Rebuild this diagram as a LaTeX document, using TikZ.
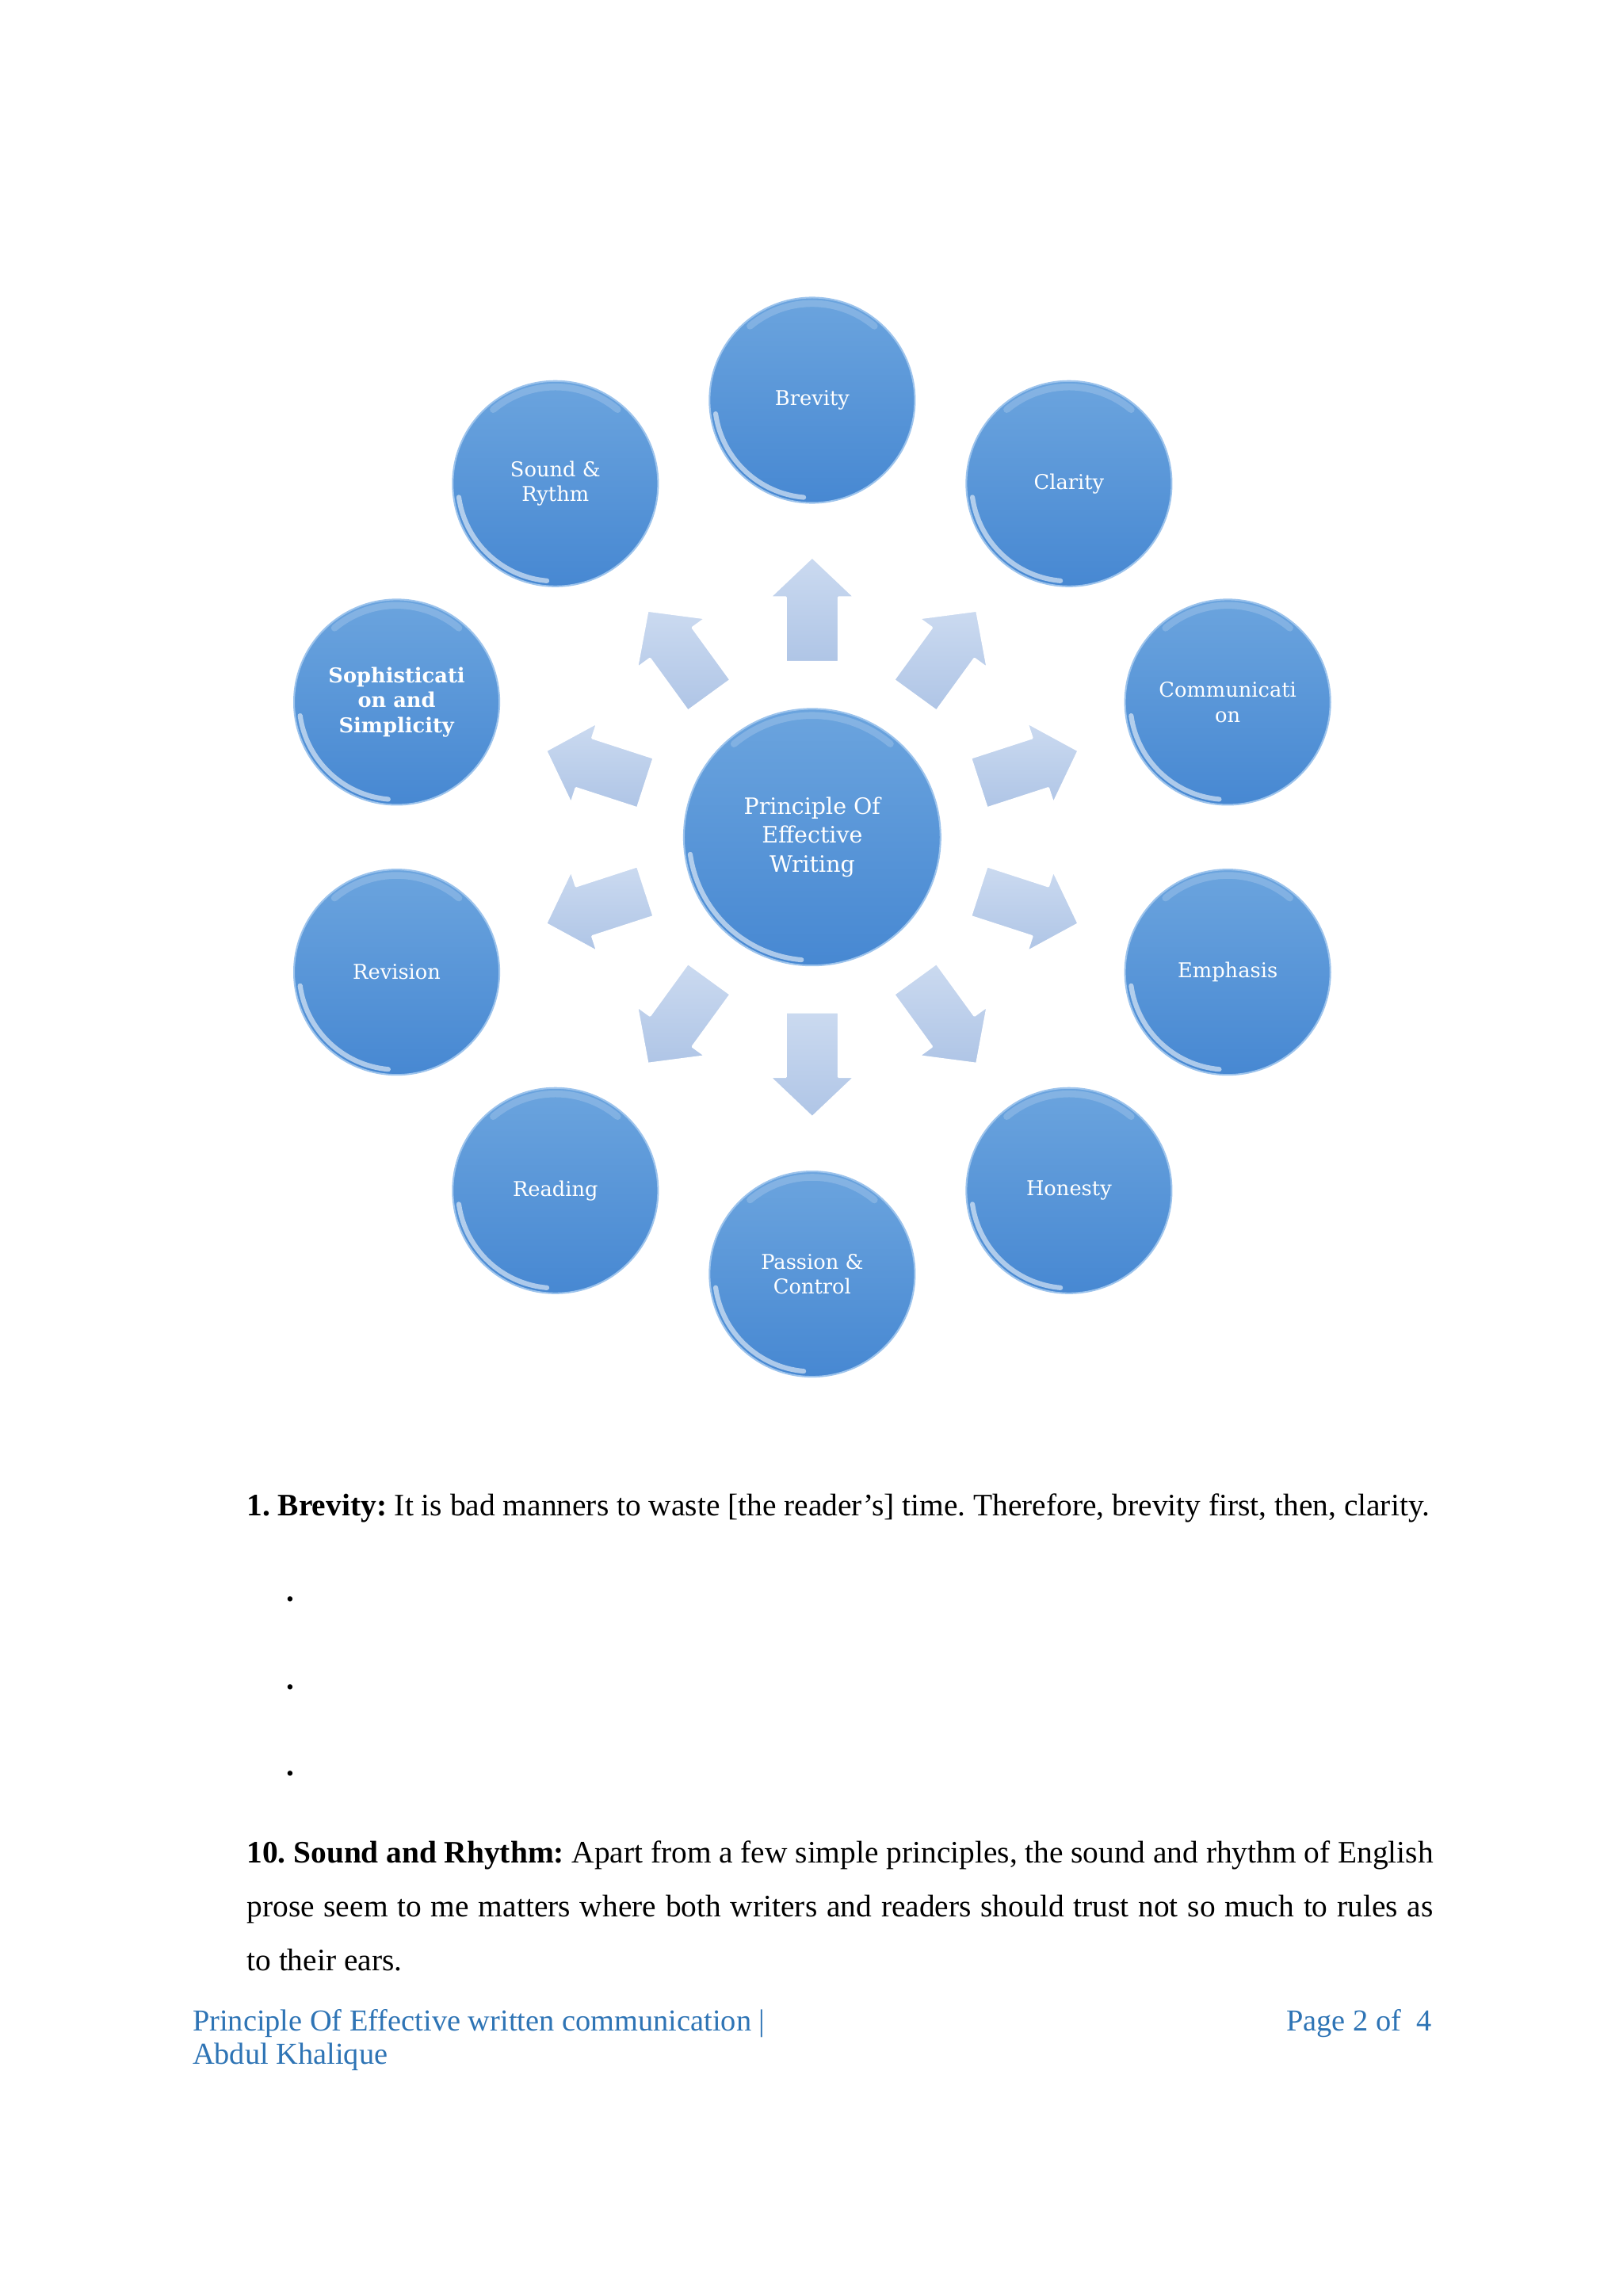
\documentclass[tikz,border=0pt]{standalone}
\usepackage{fontspec}
\setmainfont{Liberation Serif}
\newfontfamily\bubblefont{DejaVu Serif}
\usetikzlibrary{positioning,calc}

\definecolor{circtop}{HTML}{6BA4DE}
\definecolor{circbot}{HTML}{4788D2}
\definecolor{circrim}{HTML}{9CC3EC}
\definecolor{arrowtop}{HTML}{CBDAF0}
\definecolor{arrowbot}{HTML}{AFC5E6}
\definecolor{footblue}{HTML}{2E74B5}

\tikzset{
    bubble/.style={circle, minimum size=2.656cm, inner sep=0pt, outer sep=0pt,
        top color=circtop, bottom color=circbot, draw=circrim, line width=0.6pt,
        text=white, align=center, font=\bubblefont\fontsize{7.5}{9.2}\selectfont},
    hub/.style={bubble, minimum size=3.32cm, font=\bubblefont\fontsize{8.3}{10.6}\selectfont},
    blockarrow/.style={top color=arrowtop, bottom color=arrowbot, draw=white, line width=0.8pt, line join=round},
    gloss/.style={white, line width=1.8pt, opacity=0.55, line cap=round},
    sheen/.style={white, line width=2.5pt, opacity=0.18, line cap=round},
    bodytext/.style={inner sep=0pt, font=\fontsize{11.5}{19.9}\selectfont},
    foottext/.style={inner sep=0pt, text=footblue, font=\fontsize{11.2}{13}\selectfont}
}

\begin{document}
\frenchspacing
\begin{tikzpicture}[x=0.01897cm, y=0.01897cm]
    % Page
    \useasboundingbox (0,0) rectangle (1107,1566);
    \fill[white] (0,0) rectangle (1107,1566);

    % Hub
    \node[hub] (hub) at (554,995) {Principle Of\\Effective\\Writing};
    \draw[gloss] ($(hub)+(188:84)$) arc[start angle=188, end angle=265, radius=84];
    \draw[sheen] ($(hub)+(50:83)$) arc[start angle=50, end angle=130, radius=83];

    % Block arrows
    \foreach \a in {90,54,18,-18,-54,-90,-126,-162,162,126} {
        \begin{scope}[shift={(hub.center)}, rotate=\a]
            \draw[blockarrow] (119.5,-18) -- (163.5,-18) -- (163.5,-29) -- (191,0)
                -- (163.5,29) -- (163.5,18) -- (119.5,18) -- cycle;
        \end{scope}
    }

    % Bubbles
    \foreach \a/\name/\txt in {90/brevity/Brevity, 54/clarity/Clarity,
        18/communication/{Communicati\\on}, -18/emphasis/Emphasis,
        -54/honesty/Honesty, -90/passion/{Passion \&\\Control},
        -126/reading/Reading, -162/revision/Revision,
        162/sophistication/{\textbf{Sophisticati}\\\textbf{on and}\\\textbf{Simplicity}},
        126/sound/{Sound \&\\Rythm}} {
        \node[bubble] (\name) at ($(hub)+(\a:298)$) {\txt};
        \draw[gloss] ($(\name)+(188:66.5)$) arc[start angle=188, end angle=265, radius=66.5];
        \draw[sheen] ($(\name)+(50:66)$) arc[start angle=50, end angle=130, radius=66];
    }

    % Text
    \node[bodytext, anchor=base west] (brevitytext) at (168,532)
        {\textbf{1. Brevity:} It is bad manners to waste [the reader's] time. Therefore, brevity first, then, clarity.};
    \node[bodytext, anchor=base] (dotone) at (198,474) {\textbf{.}};
    \node[bodytext, anchor=base] (dottwo) at (198,414) {\textbf{.}};
    \node[bodytext, anchor=base] (dotthree) at (198,355) {\textbf{.}};
    \node[bodytext, anchor=north west, text width=15.35cm, align=justify] (soundtext) at (168,311)
        {\textbf{10. Sound and Rhythm:} Apart from a few simple principles, the sound and rhythm of English\linebreak
        prose seem to me matters where both writers and readers should trust not so much to rules as\linebreak
        to their ears.};

    % Footer
    \node[foottext, anchor=base west] (footleft) at (131,181) {Principle Of Effective written communication |};
    \node[foottext, anchor=base west] (footname) at (131,158) {Abdul Khalique};
    \node[foottext, anchor=base east] (footpage) at (977,181) {Page 2 of\ \ 4};
\end{tikzpicture}
\end{document}
